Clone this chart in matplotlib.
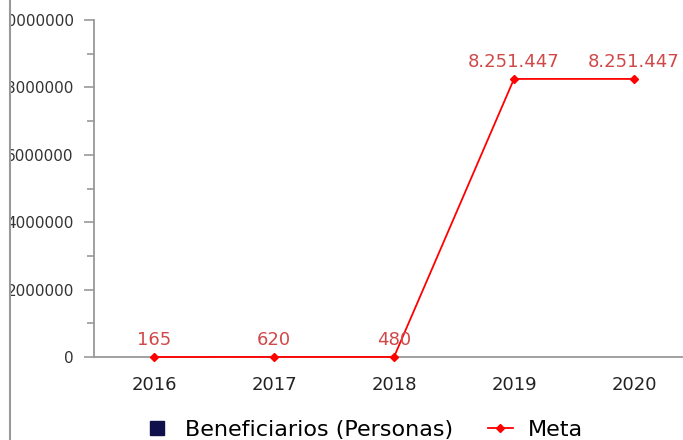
import matplotlib
matplotlib.use("Agg")
import matplotlib.pyplot as plt
from matplotlib.patches import Rectangle
from matplotlib.lines import Line2D
from matplotlib.ticker import MultipleLocator

years = ["2016", "2017", "2018", "2019", "2020"]
beneficiarios = [0, 0, 0, 0, 0]
meta = [165, 620, 480, 8251447, 8251447]
meta_labels = ["165", "620", "480", "8.251.447", "8.251.447"]

NAVY = "#10104a"
RED = "#ff0000"

W, H = 683, 440
fig = plt.figure(figsize=(W / 100, H / 100), dpi=100)
ax = fig.add_axes([94 / W, (H - 357) / H, 600 / W, 337 / H])

x = list(range(len(years)))
ax.bar(x, beneficiarios, width=0.6, color=NAVY, linewidth=0)
ax.plot(x, meta, color=RED, linewidth=1.3, marker="D", markersize=4.5,
        clip_on=False, zorder=3)
for xi, v, t in zip(x, meta, meta_labels):
    ax.annotate(t, (xi, v), xytext=(0, 6), textcoords="offset points",
                ha="center", va="bottom", fontsize=13, color="#d04848")

ax.set_xlim(-0.5, 4.5)
ax.set_ylim(0, 10000000)
ax.set_xticks(x)
ax.set_xticklabels(years, fontsize=13, color="#222222")
ax.yaxis.set_major_locator(MultipleLocator(2000000))
ax.yaxis.set_minor_locator(MultipleLocator(1000000))
ax.ticklabel_format(axis="y", style="plain", useOffset=False)
ax.tick_params(axis="y", which="major", length=7.5, width=1.2, color="#999999",
               labelsize=11, labelcolor="#333333", pad=7)
ax.tick_params(axis="y", which="minor", length=5, width=1.2, color="#999999")
ax.tick_params(axis="x", length=0, pad=14)
for s in ["top", "right"]:
    ax.spines[s].set_visible(False)
for s in ["left", "bottom"]:
    ax.spines[s].set_color("#999999")
    ax.spines[s].set_linewidth(1.3)

handles = [
    Line2D([], [], linestyle="none", marker="s", markersize=10,
           markerfacecolor=NAVY, markeredgecolor=NAVY),
    Line2D([], [], color=RED, linewidth=1.3, marker="D", markersize=4.5),
]
leg = fig.legend(handles, ["Beneficiarios (Personas)", "Meta"],
                 loc="center", bbox_to_anchor=(364 / W, (H - 430) / H),
                 ncol=2, frameon=False, fontsize=16, handlelength=1.1,
                 handletextpad=0.7, columnspacing=1.6)

fig.patches.append(Rectangle((0, 0), 10.5 / W, 1, transform=fig.transFigure,
                             facecolor="white", edgecolor="none", zorder=20))
fig.lines.append(Line2D([10 / W, 10 / W], [0, 1], transform=fig.transFigure,
                        color="#999999", linewidth=1.5, zorder=21))

fig.savefig("out.png", dpi=100)
